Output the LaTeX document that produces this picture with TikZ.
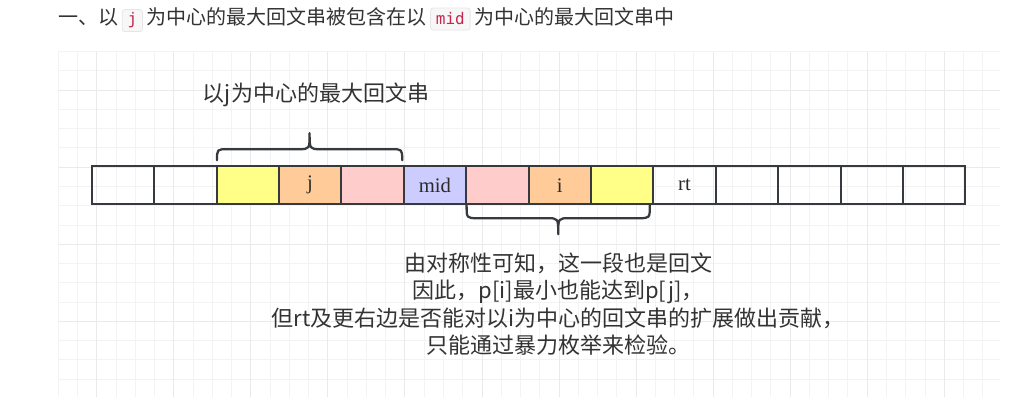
\documentclass[tikz,border=0pt]{standalone}
\usepackage{fontspec}
\setmainfont{Noto Sans CJK SC}
\newfontfamily\cellfont{Liberation Serif}
\newfontfamily\codefont{DejaVu Sans Mono}
\usetikzlibrary{positioning, calc}

\definecolor{gridminor}{HTML}{F3F3F3}
\definecolor{gridmajor}{HTML}{EAEAEA}
\definecolor{celledge}{HTML}{36393D}
\definecolor{textgray}{HTML}{333333}
\definecolor{cellyellow}{HTML}{FFFF88}
\definecolor{cellorange}{HTML}{FFCC99}
\definecolor{cellpink}{HTML}{FFCCCC}
\definecolor{cellblue}{HTML}{CCCCFF}
\definecolor{codered}{HTML}{C7254E}
\definecolor{codebg}{HTML}{F7F7F7}
\definecolor{codeedge}{HTML}{E6E6E6}

\tikzset{
	cell/.style={rectangle, draw=celledge, line width=1.5pt, minimum width=46.8pt,
		minimum height=28.5pt, inner sep=0pt, outer sep=0pt, text=textgray!85!black,
		font=\cellfont\fontsize{15.5}{17}\selectfont},
	titletext/.style={inner sep=0pt, text=textgray, font=\fontsize{15}{18}\selectfont},
	codebox/.style={rectangle, rounded corners=2pt, fill=codebg, draw=codeedge, line width=0.6pt,
		text=codered, inner xsep=4pt, inner ysep=0pt, minimum height=16.5pt,
		font=\codefont\fontsize{12}{14}\selectfont},
	label/.style={inner sep=0pt, text=textgray, align=center,
		font=\fontsize{16.5}{20.6}\selectfont},
	brace/.style={draw=celledge, line width=1.7pt, line cap=round, line join=round}
}

\begin{document}
\begin{tikzpicture}[x=0.75pt, y=-0.75pt]

		\fill[white] (0,0) rectangle (1012,409);
		\useasboundingbox (0,0) rectangle (1012,409);

		%Grid
		\foreach \k in {0,...,48}
			\draw[gridminor, line width=0.75pt] (58.3+\k*19.26,51.7) -- (58.3+\k*19.26,397);
		\foreach \k in {0,...,17}
			\draw[gridminor, line width=0.75pt] (58.3,51.7+\k*19.26) -- (1000,51.7+\k*19.26);
		\foreach \k in {2,6,...,46}
			\draw[gridmajor, line width=0.75pt] (58.3+\k*19.26,51.7) -- (58.3+\k*19.26,397);
		\foreach \k in {2,6,10,14}
			\draw[gridmajor, line width=0.75pt] (58.3,51.7+\k*19.26) -- (1000,51.7+\k*19.26);

		%Title
		\node[titletext, anchor=base west] (t1) at (58,25) {一、以};
		\node[codebox, base right=2.5pt of t1] (tj) {j};
		\node[titletext, base right=2.5pt of tj] (t2) {为中心的最大回文串被包含在以};
		\node[codebox, base right=2.5pt of t2] (tmid) {mid};
		\node[titletext, base right=2.5pt of tmid] (t3) {为中心的最大回文串中};

		%Cells
		\node[cell] (c0) at (122.9,185.2){};
		\node[cell, right=0pt of c0] (c1){};
		\node[cell, fill=cellyellow, right=0pt of c1] (c2){};
		\node[cell, fill=cellorange, right=0pt of c2] (c3){j};
		\node[cell, fill=cellpink, right=0pt of c3] (c4){};
		\node[cell, fill=cellblue, right=0pt of c4] (c5){mid};
		\node[cell, fill=cellpink, right=0pt of c5] (c6){};
		\node[cell, fill=cellorange, right=0pt of c6] (c7){i};
		\node[cell, fill=cellyellow, right=0pt of c7] (c8){};
		\node[cell, right=0pt of c8] (c9){rt};
		\node[cell, right=0pt of c9] (c10){};
		\node[cell, right=0pt of c10] (c11){};
		\node[cell, right=0pt of c11] (c12){};
		\node[cell, right=0pt of c12] (c13){};

		%Braces
		\coordinate (ul) at ($(c2.north west)+(0.5,-6)$);
		\coordinate (ur) at ($(c4.north east)+(-1.5,-6)$);
		\coordinate (ut) at ($(ul)!0.5!(ur)+(0,-27)$);
		\draw[brace] (ul) .. controls ($(ul)+(0,-11)$) .. ($(ul)+(11,-11)$)
			-- ($(ut)+(-11,16)$) .. controls ($(ut)+(0,16)$) .. (ut)
			.. controls ($(ut)+(0,16)$) .. ($(ut)+(11,16)$)
			-- ($(ur)+(-11,-11)$) .. controls ($(ur)+(0,-11)$) .. (ur);

		\coordinate (ll) at ($(c6.south west)+(0.5,1)$);
		\coordinate (lr) at ($(c8.south east)+(-3.5,1)$);
		\coordinate (lt) at ($(ll)!0.5!(lr)+(0,29)$);
		\draw[brace] (ll) .. controls ($(ll)+(0,13)$) .. ($(ll)+(11,13)$)
			-- ($(lt)+(-11,-16)$) .. controls ($(lt)+(0,-16)$) .. (lt)
			.. controls ($(lt)+(0,-16)$) .. ($(lt)+(11,-16)$)
			-- ($(lr)+(-11,13)$) .. controls ($(lr)+(0,13)$) .. (lr);

		%Labels
		\node[label] (uplabel) at (316,95) {以j为中心的最大回文串};
		\node[label] (lowlabel) at (558,304) {由对称性可知，这一段也是回文\\
			因此，p[i]最小也能达到p[j]，\\
			但rt及更右边是否能对以i为中心的回文串的扩展做出贡献，\\
			只能通过暴力枚举来检验。};

\end{tikzpicture}
\end{document}
